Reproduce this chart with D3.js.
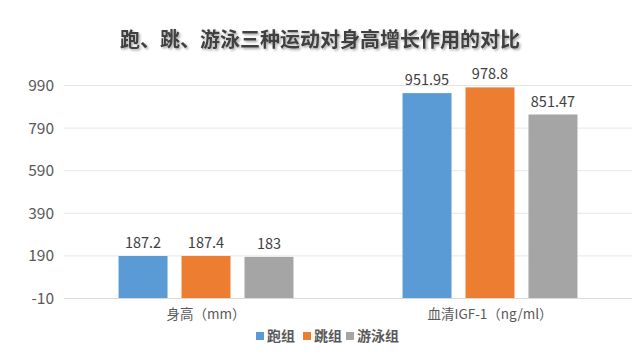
<!DOCTYPE html>
<html>
<head>
<meta charset="utf-8">
<script src="https://cdn.jsdelivr.net/npm/d3@7"></script>
<style>
  html, body { margin: 0; padding: 0; background: #ffffff; }
  svg { display: block; font-family: "Microsoft YaHei", "Noto Sans CJK SC", "Noto Sans", sans-serif; }
</style>
</head>
<body>
<svg id="chart" width="640" height="360"></svg>
<script>
const title = "跑、跳、游泳三种运动对身高增长作用的对比";
const categories = ["身高（mm）", "血清IGF-1（ng/ml）"];
const seriesNames = ["跑组", "跳组", "游泳组"];
const runValues = [187.2, 951.95];
const jumpValues = [187.4, 978.8];
const swimValues = [183, 851.47];
const valueLabels = [["187.2", "951.95"], ["187.4", "978.8"], ["183", "851.47"]];
const yTicks = [-10, 190, 390, 590, 790, 990];
const colors = ["#5B9BD5", "#ED7D31", "#A5A5A5"];

const seriesValues = [runValues, jumpValues, swimValues];
const svg = d3.select("#chart");

const defs = svg.append("defs");
const f = defs.append("filter").attr("id", "shadow").attr("x", "-5%").attr("y", "-20%").attr("width", "110%").attr("height", "160%");
f.append("feDropShadow").attr("dx", 1.5).attr("dy", 1.5).attr("stdDeviation", 0.8)
  .attr("flood-color", "#000").attr("flood-opacity", 0.35);

const pLeft = 64, pRight = 632, pTop = 85, pBottom = 298;

const y = d3.scaleLinear().domain([-10, 990]).range([pBottom, pTop]);
const x0 = d3.scaleBand().domain(categories).range([pLeft, pRight]).paddingInner(0.384).paddingOuter(0.192);
const x1 = d3.scaleBand().domain(seriesNames).range([0, x0.bandwidth()]).paddingInner(0.222).paddingOuter(0);

// title
svg.append("text")
  .attr("x", 320).attr("y", 47)
  .attr("text-anchor", "middle")
  .attr("font-size", 20).attr("font-weight", "bold")
  .attr("fill", "#404040")
  .attr("filter", "url(#shadow)")
  .text(title);

// grid lines
const yAxis = d3.axisLeft(y).tickValues(yTicks).tickSize(-(pRight - pLeft)).tickFormat(d => String(d));
const gy = svg.append("g").attr("transform", `translate(${pLeft},0)`).call(yAxis);
gy.select(".domain").remove();
gy.selectAll(".tick line").attr("stroke", "#e6e6e6").attr("stroke-width", 1);
gy.selectAll(".tick text").attr("x", -10).attr("dy", "0.35em")
  .attr("font-size", 15.5).attr("fill", "#595959")
  .attr("font-family", "\"Microsoft YaHei\", \"Noto Sans CJK SC\", sans-serif");

// bars
const groups = svg.append("g").selectAll("g")
  .data(categories).join("g")
  .attr("transform", d => `translate(${x0(d)},0)`);

seriesNames.forEach((s, si) => {
  groups.append("rect")
    .attr("x", x1(s))
    .attr("width", x1.bandwidth())
    .attr("y", (d, ci) => y(seriesValues[si][ci]))
    .attr("height", (d, ci) => y(-10) - y(seriesValues[si][ci]))
    .attr("fill", colors[si]);
  groups.append("text")
    .attr("x", x1(s) + x1.bandwidth() / 2)
    .attr("y", (d, ci) => y(seriesValues[si][ci]) - 8)
    .attr("text-anchor", "middle")
    .attr("font-size", 14.5).attr("fill", "#404040")
    .text((d, ci) => valueLabels[si][ci]);
});

// x axis line
const xAxis = d3.axisBottom(x0).tickSize(0).tickPadding(11);
const gx = svg.append("g").attr("transform", `translate(0,${pBottom})`).call(xAxis);
gx.select(".domain").attr("stroke", "#d9d9d9").attr("d", `M${pLeft},0.5H${pRight}`);
gx.selectAll(".tick text").attr("font-size", 13.5).attr("fill", "#595959")
  .attr("font-family", "\"Microsoft YaHei\", \"Noto Sans CJK SC\", sans-serif");

// legend
const legendX = [256, 303, 346];
const legend = svg.append("g");
seriesNames.forEach((s, i) => {
  legend.append("rect").attr("x", legendX[i]).attr("y", 332).attr("width", 8).attr("height", 8).attr("fill", colors[i]);
  legend.append("text").attr("x", legendX[i] + 11).attr("y", 341)
    .attr("font-size", 14).attr("font-weight", "bold").attr("fill", "#595959").text(s);
});
</script>
</body>
</html>
